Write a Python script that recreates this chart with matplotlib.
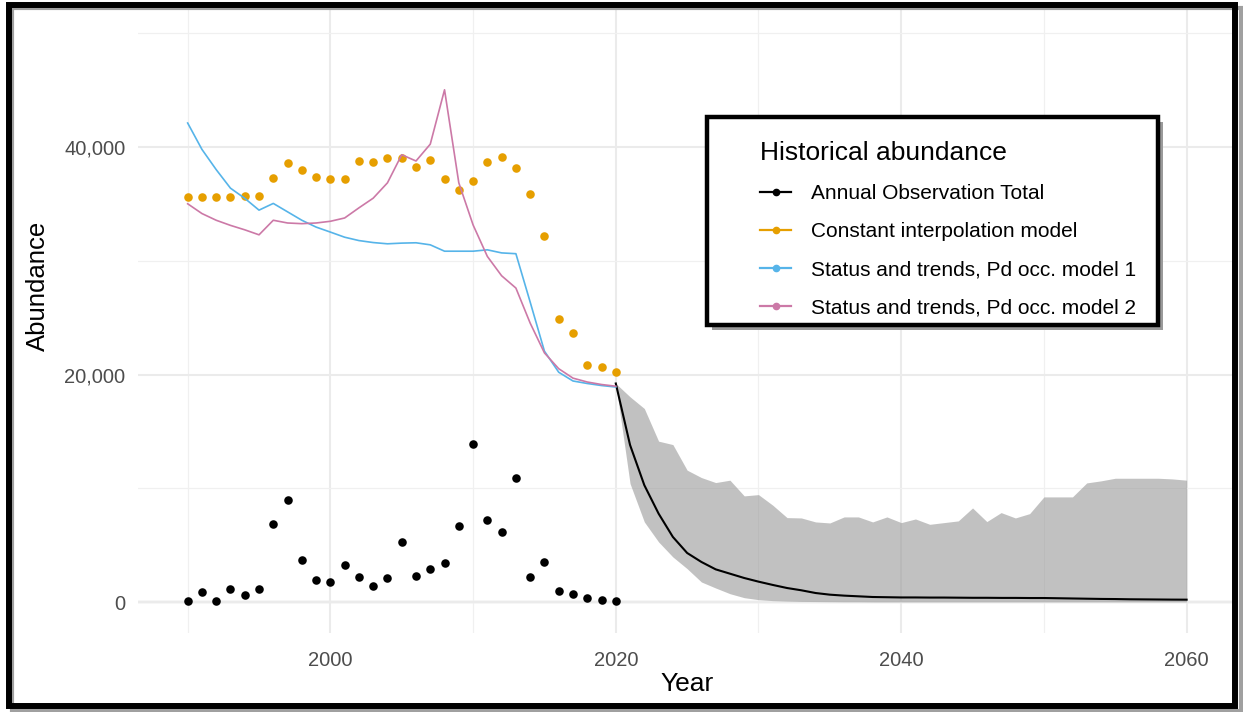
import numpy as np
import matplotlib
matplotlib.use("Agg")
import matplotlib.pyplot as plt
from matplotlib.lines import Line2D
from matplotlib.patches import Rectangle
from matplotlib.ticker import FuncFormatter

plt.rcParams['font.family'] = ['Liberation Sans', 'DejaVu Sans']

# historical series, 1990-2020
years_hist = list(range(1990, 2021))
obs_total = [90, 890, 90, 1100, 590, 1100, 6890, 9000, 3710, 1960, 1750,
             3210, 2170, 1450, 2100, 5270, 2280, 2900, 3420, 6720, 13880,
             7220, 6140, 10890, 2220, 3550, 925, 740, 310, 150, 90]
const_interp = [35575, 35575, 35575, 35575, 35665, 35665, 37240, 38605, 38010, 37330, 37210,
                37210, 38780, 38680, 39075, 39010, 38270, 38830, 37190, 36210, 36980,
                38640, 39140, 38180, 35840, 32170, 24920, 23650, 20850, 20660, 20200]
model1 = [42110, 39790, 38010, 36380, 35490, 34450, 35040, 34300, 33560, 32960, 32520,
          32070, 31775, 31600, 31490, 31550, 31580, 31400, 30840, 30840, 30840,
          30960, 30690, 30620, 26370, 22050, 20200, 19430, 19210, 19030, 18900]
model2 = [35010, 34150, 33560, 33110, 32720, 32280, 33560, 33320, 33260, 33320, 33470,
          33760, 34650, 35500, 36850, 39320, 38770, 40250, 45030, 36850, 33150,
          30380, 28680, 27600, 24520, 21900, 20510, 19680, 19340, 19120, 18970]

# projection, 2020-2060
years_proj = list(range(2020, 2061))
proj_mean = [19210, 13800, 10270, 7770, 5720, 4310, 3520, 2870, 2490, 2110, 1790,
             1500, 1230, 1030, 790, 645, 560, 500, 440, 420, 400,
             400, 390, 390, 380, 370, 370, 360, 360, 350, 350,
             330, 310, 290, 270, 260, 240, 230, 220, 210, 205]
proj_upper = [19210, 18040, 17010, 14140, 13840, 11590, 10940, 10500, 10710, 9330, 9440,
              8510, 7420, 7390, 7040, 6950, 7480, 7480, 7040, 7480, 6980,
              7300, 6830, 6980, 7130, 8270, 7070, 7860, 7390, 7770, 9240,
              9240, 9240, 10470, 10650, 10880, 10880, 10880, 10880, 10820, 10710]
proj_lower = [19210, 10410, 7040, 5280, 3960, 2930, 1760, 1230, 730, 380, 205,
              120, 80, 50, 40, 30, 20, 20, 10, 10, 10,
              10, 10, 10, 10, 10, 10, 10, 10, 10, 10,
              10, 10, 10, 10, 10, 10, 10, 10, 10, 10]

labels = ["Annual Observation Total", "Constant interpolation model",
          "Status and trends, Pd occ. model 1", "Status and trends, Pd occ. model 2"]
colors = ["#000000", "#E69F00", "#56B4E9", "#CC79A7"]

W, H = 1243, 712
fig = plt.figure(figsize=(W / 100, H / 100), dpi=100, facecolor='white')
ax = fig.add_axes([138 / W, 1 - 633 / H, (1236 - 138) / W, (633 - 8) / H])

ax.set_xlim(1986.52, 2063.46)
ax.set_ylim(-2725, 52220)

ax.set_xticks([2000, 2020, 2040, 2060])
ax.set_xticks([1990, 2010, 2030, 2050], minor=True)
ax.set_yticks([0, 20000, 40000])
ax.set_yticks([10000, 30000, 50000], minor=True)
ax.yaxis.set_major_formatter(FuncFormatter(lambda v, p: f"{v:,.0f}"))
ax.grid(which='major', color='#EBEBEB', lw=1.5, zorder=0)
ax.grid(which='minor', color='#F0F0F0', lw=0.9, zorder=0)
ax.tick_params(which='both', length=0)
ax.tick_params(axis='x', pad=13, labelsize=14.5, labelcolor='#4D4D4D')
ax.tick_params(axis='y', pad=9, labelsize=14.5, labelcolor='#4D4D4D')
for s in ax.spines.values():
    s.set_visible(False)

ax.axhline(0, color='#BEBEBE', lw=1.6, zorder=1)

# projection ribbon + mean
ax.fill_between(years_proj, proj_lower, proj_upper, color='#999999', alpha=0.6, lw=0, zorder=2)
ax.plot(years_proj, proj_mean, color='black', lw=1.5, zorder=3)

ax.scatter(years_hist, obs_total, s=38, color=colors[0], lw=0, zorder=4)
ax.scatter(years_hist, const_interp, s=38, color=colors[1], lw=0, zorder=4)
ax.plot(years_hist, model1, color=colors[2], lw=1.2, zorder=5)
ax.plot(years_hist, model2, color=colors[3], lw=1.2, zorder=6)

ax.set_xlabel("Year", fontsize=19)
ax.set_ylabel("Abundance", fontsize=18.5)
ax.xaxis.set_label_coords(0.5, (633 - 684) / 625)
ax.yaxis.set_label_coords((38 - 138) / 1098, (633 - 286) / 625)
ax.xaxis.label.set_va('center')
ax.yaxis.label.set_va('center')

# legend box drawn by hand (ggplot style with shadow)
lx0, lx1, ly0, ly1 = 707, 1158, 117, 325
fig.patches.append(Rectangle(((lx0 + 5) / W, 1 - (ly1 + 5) / H), (lx1 - lx0) / W, (ly1 - ly0) / H,
                             transform=fig.transFigure, facecolor='#9A9A9A', edgecolor='none', zorder=9))
fig.patches.append(Rectangle((lx0 / W, 1 - ly1 / H), (lx1 - lx0) / W, (ly1 - ly0) / H,
                             transform=fig.transFigure, facecolor='white', edgecolor='black', lw=3.2, zorder=10))

handles = [Line2D([], [], color=c, lw=1.6, marker='o', markersize=4.5) for c in colors]
leg = fig.legend(handles, labels, title="Historical abundance", loc='upper left',
                 bbox_to_anchor=(760 / W, 1 - 141 / H), frameon=False, fontsize=15,
                 title_fontsize=19, alignment='left', borderpad=0, borderaxespad=0,
                 handlelength=1.5, handletextpad=0.95, labelspacing=0.92)
leg.set_zorder(11)

# outer frame with shadow
fig.patches.append(Rectangle((12 / W, 1 - 711 / H), (1241 - 12) / W, (711 - 8) / H,
                             transform=fig.transFigure, facecolor='none', edgecolor='#A0A0A0', lw=3, zorder=19))
fig.patches.append(Rectangle((9 / W, 1 - 706 / H), (1235 - 9) / W, (706 - 4.5) / H,
                             transform=fig.transFigure, facecolor='none', edgecolor='black', lw=4.3, zorder=20))

fig.savefig("out.png", dpi=100, facecolor='white')
